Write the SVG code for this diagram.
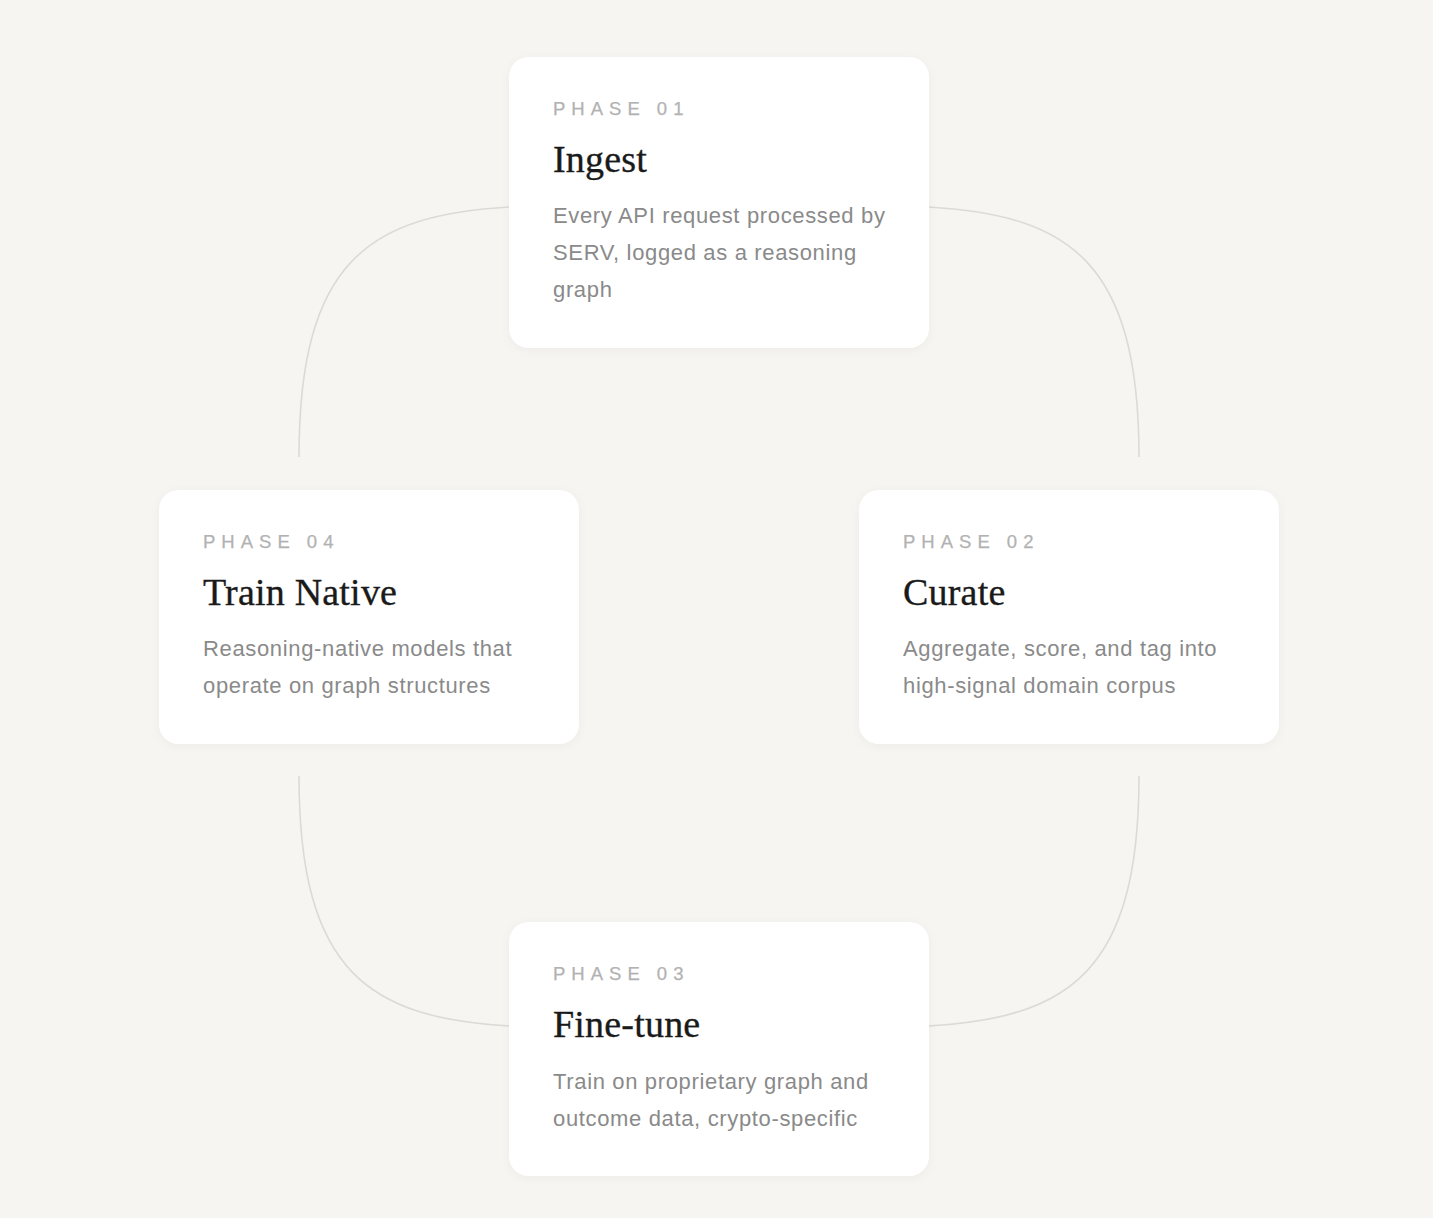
<svg xmlns="http://www.w3.org/2000/svg" width="1433" height="1218" viewBox="0 0 1433 1218">
  <style>
    .card { fill: #ffffff; filter: url(#shadow); }
    .phase { font-family: "Liberation Sans", Arial, sans-serif; font-size: 18.5px; letter-spacing: 6px; fill: #b2b2b2; stroke: #b2b2b2; stroke-width: 0.25px; }
    .title { font-family: "Liberation Serif", "Times New Roman", serif; font-size: 38px; letter-spacing: 0.2px; fill: #1a1a1a; stroke: #1a1a1a; stroke-width: 0.35px; }
    .body { font-family: "Liberation Sans", Arial, sans-serif; font-size: 22px; letter-spacing: 0.65px; fill: #8a8a8a; }
    .conn { fill: none; stroke: #dcdad6; stroke-width: 1.6; }
  </style>
  <defs>
    <filter id="shadow" x="-10%" y="-10%" width="120%" height="130%">
      <feDropShadow dx="0" dy="2" stdDeviation="5" flood-color="#000000" flood-opacity="0.04"/>
    </filter>
  </defs>
  <rect x="0" y="0" width="1433" height="1218" fill="#f6f5f2"/>

  <g id="connectors">
    <path class="conn" d="M299,457 C299,260 370,215 510,207"/>
    <path class="conn" d="M1139,457 C1139,260 1068,215 928,207"/>
    <path class="conn" d="M299,776 C299,973 370,1018 510,1026"/>
    <path class="conn" d="M1139,776 C1139,973 1068,1018 928,1026"/>
  </g>

  <g id="node-ingest">
    <rect class="card" x="509" y="57" width="420" height="291" rx="20"/>
    <text class="phase" x="553" y="115">PHASE 01</text>
    <text class="title" x="553" y="172">Ingest</text>
    <text class="body" x="553" y="223">Every API request processed by</text>
    <text class="body" x="553" y="260">SERV, logged as a reasoning</text>
    <text class="body" x="553" y="297">graph</text>
  </g>

  <g id="node-curate">
    <rect class="card" x="859" y="490" width="420" height="254" rx="20"/>
    <text class="phase" x="903" y="548">PHASE 02</text>
    <text class="title" x="903" y="605">Curate</text>
    <text class="body" x="903" y="656">Aggregate, score, and tag into</text>
    <text class="body" x="903" y="693">high-signal domain corpus</text>
  </g>

  <g id="node-finetune">
    <rect class="card" x="509" y="922" width="420" height="254" rx="20"/>
    <text class="phase" x="553" y="980">PHASE 03</text>
    <text class="title" x="553" y="1037">Fine-tune</text>
    <text class="body" x="553" y="1089">Train on proprietary graph and</text>
    <text class="body" x="553" y="1126">outcome data, crypto-specific</text>
  </g>

  <g id="node-trainnative">
    <rect class="card" x="159" y="490" width="420" height="254" rx="20"/>
    <text class="phase" x="203" y="548">PHASE 04</text>
    <text class="title" x="203" y="605">Train Native</text>
    <text class="body" x="203" y="656">Reasoning-native models that</text>
    <text class="body" x="203" y="693">operate on graph structures</text>
  </g>
</svg>
